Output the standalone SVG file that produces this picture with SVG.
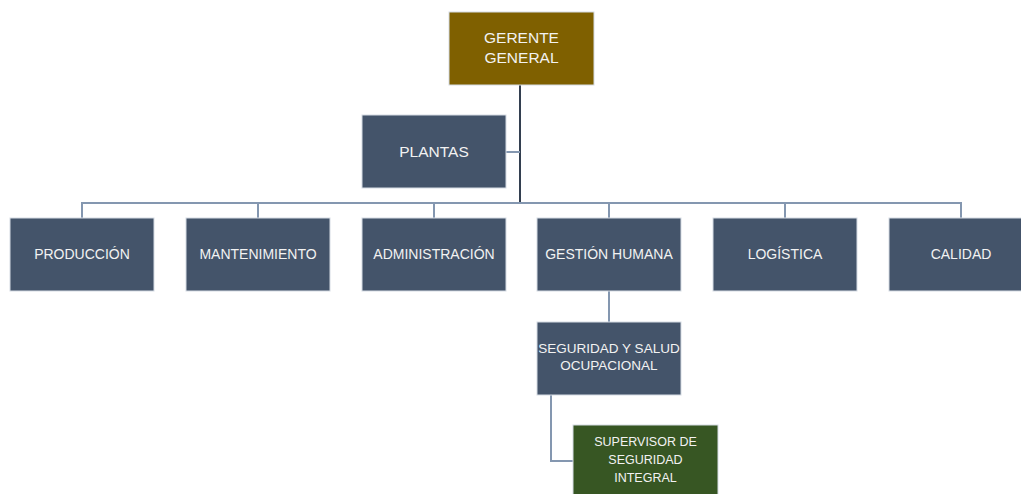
<svg xmlns="http://www.w3.org/2000/svg" width="1021" height="494" viewBox="0 0 1021 494">
<style>
.n{fill:#44546a;stroke:#d6dce4;stroke-width:1}
.g{fill:#7f6000;stroke:#d6dce4;stroke-width:1}
.v{fill:#375623;stroke:#d6dce4;stroke-width:1}
text{font-family:"Liberation Sans",Arial,sans-serif;fill:#f2f2f2;text-anchor:middle}
.c{fill:none;stroke:#8497b0;stroke-width:2}
.t{fill:none;stroke:#333f50;stroke-width:2}
</style>
<rect width="1021" height="494" fill="#ffffff"/>
<g id="connectors">
<path class="t" d="M520 85 V203"/>
<path class="c" d="M506 152 H520"/>
<path class="c" d="M82 218 V203 H961 V218"/>
<path class="c" d="M258 203 V218 M434 203 V218 M609 203 V218 M785 203 V218"/>
<path class="c" d="M609 291 V322"/>
<path class="c" d="M551 395 V461 H573"/>
</g>
<g id="gerente"><rect class="g" x="449" y="12" width="145" height="73"/><text x="521.5" y="43" font-size="15.5">GERENTE</text><text x="521.5" y="63" font-size="15.5">GENERAL</text></g>
<g id="plantas"><rect class="n" x="362" y="115" width="144" height="73"/><text x="434" y="157" font-size="15.5">PLANTAS</text></g>
<g id="produccion"><rect class="n" x="10" y="218" width="144" height="73"/><text x="82" y="259" font-size="14">PRODUCCIÓN</text></g>
<g id="mantenimiento"><rect class="n" x="186" y="218" width="144" height="73"/><text x="258" y="259" font-size="14">MANTENIMIENTO</text></g>
<g id="administracion"><rect class="n" x="362" y="218" width="144" height="73"/><text x="434" y="259" font-size="14">ADMINISTRACIÓN</text></g>
<g id="gestion"><rect class="n" x="537" y="218" width="144" height="73"/><text x="609" y="259" font-size="14">GESTIÓN HUMANA</text></g>
<g id="logistica"><rect class="n" x="713" y="218" width="144" height="73"/><text x="785" y="259" font-size="14">LOGÍSTICA</text></g>
<g id="calidad"><rect class="n" x="889" y="218" width="144" height="73"/><text x="961" y="259" font-size="14">CALIDAD</text></g>
<g id="seguridad"><rect class="n" x="537" y="322" width="144" height="73"/><text x="609" y="353" font-size="13.5">SEGURIDAD Y SALUD</text><text x="609" y="370" font-size="13.5">OCUPACIONAL</text></g>
<g id="supervisor"><rect class="v" x="573" y="425" width="145" height="73"/><text x="645.5" y="446" font-size="12.5">SUPERVISOR DE</text><text x="645.5" y="464" font-size="12.5">SEGURIDAD</text><text x="645.5" y="482" font-size="12.5">INTEGRAL</text></g>
</svg>
